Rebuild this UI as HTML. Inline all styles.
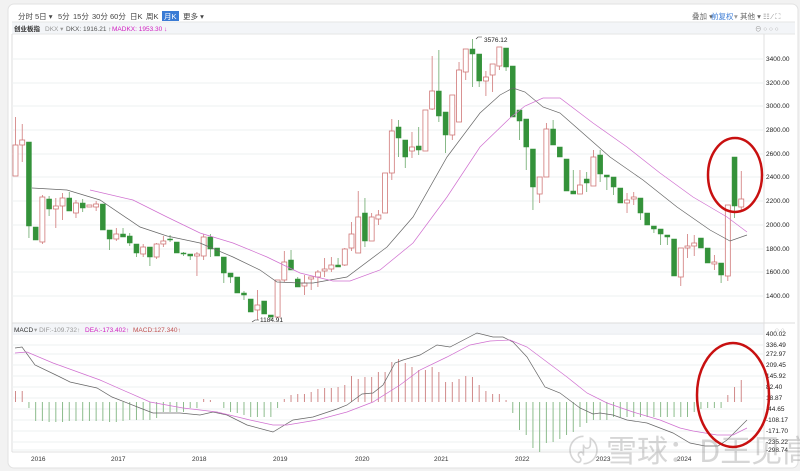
<!DOCTYPE html>
<html><head><meta charset="utf-8"><style>
html,body{margin:0;padding:0;background:#fff;width:800px;height:471px;overflow:hidden;font-family:"Liberation Sans","Noto Sans CJK SC",sans-serif;}
svg{position:absolute;left:0;top:0}
</style></head><body>
<svg id="s" width="800" height="471" xmlns="http://www.w3.org/2000/svg" font-family="Liberation Sans, Noto Sans CJK SC, sans-serif">
<rect x="0" y="0" width="800" height="471" fill="#f2f2f2"/>
<rect x="8" y="4" width="790" height="464" rx="6" fill="#fff" stroke="#e2e2e2"/>
<rect x="12" y="22" width="783" height="12" fill="#f3f5f8"/>
<line x1="12" y1="22" x2="795" y2="22" stroke="#e6e6e6"/>
<line x1="12" y1="34" x2="795" y2="34" stroke="#e6e6e6"/>
<rect x="12" y="323" width="752" height="12" fill="#f3f5f8"/>
<line x1="12" y1="323" x2="795" y2="323" stroke="#ddd"/>
<line x1="12" y1="34" x2="12" y2="452" stroke="#ddd"/>
<line x1="764" y1="34" x2="764" y2="452" stroke="#e0e0e0"/>
<line x1="12" y1="452" x2="764" y2="452" stroke="#e0e0e0"/>
<g font-size="7.5" fill="#444">
<text x="18" y="19">分时</text><text x="35" y="19">5日 ▾</text><text x="58" y="19">5分</text><text x="73" y="19">15分</text><text x="92" y="19">30分</text><text x="110" y="19">60分</text><text x="130" y="19">日K</text><text x="146" y="19">周K</text>
<rect x="162" y="11" width="17" height="10" fill="#3a7bd5"/><text x="164" y="19" fill="#fff">月K</text>
<text x="183" y="19">更多 ▾</text>
<text x="692" y="19" fill="#666">叠加 ▾</text><text x="711" y="19" fill="#3a7bd5">前复权</text><text x="734" y="19" fill="#999">▾</text><text x="740" y="19" fill="#666">其他 ▾</text><text x="763" y="19" fill="#999">☷ ⁄ ⛶</text>
</g>
<g font-size="6.5">
<text x="14" y="31" fill="#333" font-weight="bold">创业板指</text>
<text x="45" y="31" fill="#999">DKX ▾</text><text x="66" y="31" fill="#555">DKX: 1916.21 ↑</text>
<text x="112" y="31" fill="#d020c0">MADKX: 1953.30 ↓</text>
<text x="14" y="332" fill="#333">MACD</text><text x="34" y="332" fill="#999">▾ DIF:-109.732↑</text>
<text x="85" y="332" fill="#d020c0">DEA:-173.402↑</text><text x="133" y="332" fill="#c05050">MACD:127.340↑</text>
<text x="755" y="31" fill="#999">⊖ ○ ○ ○</text><text x="775" y="332" fill="#999">○ ○</text>
</g>
<g id="grid"></g><g id="ax" font-size="6.5" fill="#222"></g>
<g id="mac"></g><g id="can"></g>
<g id="ma" fill="none" stroke-width="0.7"></g>
<g font-size="6.5" fill="#222">
<text x="484" y="42">3576.12</text><path d="M476 39 L478 37 L482 37" stroke="#333" fill="none" stroke-width="0.6"/>
<text x="260" y="322">1184.91</text><path d="M252 322 L255 320 L259 320" stroke="#333" fill="none" stroke-width="0.6"/>
</g>
<g font-size="6.5" fill="#333">
<text x="31" y="461">2016</text><text x="111" y="461">2017</text><text x="192" y="461">2018</text><text x="273" y="461">2019</text><text x="355" y="461">2020</text><text x="434" y="461">2021</text><text x="515" y="461">2022</text><text x="596" y="461">2023</text><text x="677" y="461">2024</text>
</g>
<text x="568" y="462" font-size="31" fill="#999" fill-opacity="0.4" font-family="Noto Sans CJK SC, sans-serif">〄 雪球：D王见高傲</text>
<ellipse cx="735" cy="175" rx="27" ry="37" fill="none" stroke="#c81010" stroke-width="2.5"/>
<ellipse cx="733" cy="395" rx="36" ry="52" fill="none" stroke="#c81010" stroke-width="2.5"/>
</svg>
<script>
var NS="http://www.w3.org/2000/svg";
function el(p,t,a){var e=document.createElementNS(NS,t);for(var k in a)e.setAttribute(k,a[k]);document.getElementById(p).appendChild(e);return e;}
var pl=[[3400,59],[3200,83],[3000,106],[2800,130],[2600,154],[2400,177],[2200,201],[2000,225],[1800,249],[1600,272],[1400,296]];
pl.forEach(function(a){el("grid","line",{x1:12,x2:764,y1:a[1],y2:a[1],stroke:"#eef0f2"});var t=el("ax","text",{x:766,y:a[1]+2});t.textContent=a[0].toFixed(2);});
var ml=[["400.02",334],["336.49",345],["272.97",354],["209.45",365],["145.92",376],["82.40",387],["18.87",398],["-44.65",409],["-108.17",420],["-171.70",431],["-235.22",442],["-298.74",450]];
ml.forEach(function(a){el("grid","line",{x1:12,x2:764,y1:a[1],y2:a[1],stroke:"#eef0f2"});var t=el("ax","text",{x:766,y:a[1]+2});t.textContent=a[0];});
var C=[[145,176,117,176,1],[140,145,124,162,1],[142,226,142,238,0],[227,240,227,240,0],[197,242,195,244,1],[199,209,196,216,0],[206,209,198,228,1],[198,206,193,220,1],[198,211,192,211,0],[203,213,200,218,1],[203,208,199,212,0],[205,207,205,207,1],[204,207,201,211,1],[204,230,204,230,0],[230,239,230,250,0],[234,239,228,241,1],[234,237,228,237,0],[236,243,233,246,0],[244,253,244,257,0],[247,254,244,257,1],[247,257,247,266,0],[244,257,243,259,1],[241,244,236,247,1],[239,240,235,242,0],[242,253,242,253,0],[253,254,252,256,0],[254,256,254,260,0],[254,256,252,276,1],[237,256,234,260,1],[237,249,234,257,0],[248,256,248,256,0],[257,273,257,283,0],[273,277,273,283,0],[277,293,277,293,0],[293,295,291,300,0],[299,312,299,312,0],[305,310,290,320,1],[301,314,301,314,0],[315,317,315,320,0],[280,317,280,318,1],[262,280,251,282,1],[260,270,250,270,0],[279,287,277,287,0],[283,286,275,295,1],[277,279,277,290,1],[272,277,270,287,1],[269,271,258,277,1],[265,269,257,272,1],[265,267,258,267,0],[249,265,248,266,1],[234,248,222,251,1],[217,253,191,253,1],[213,241,198,247,0],[217,241,213,241,1],[215,219,210,225,1],[173,213,173,213,1],[131,173,119,180,1],[127,138,120,157,0],[140,157,140,168,0],[147,151,132,158,1],[146,150,127,155,0],[110,151,110,151,1],[91,109,56,110,1],[91,116,50,122,0],[112,135,112,153,0],[95,135,95,140,1],[70,122,62,122,1],[49,72,49,80,1],[49,54,39,87,0],[54,81,54,87,0],[77,81,71,96,1],[64,75,64,92,1],[47,66,47,70,1],[48,67,48,71,0],[66,117,66,117,0],[110,121,110,140,0],[119,147,119,170,0],[149,187,149,210,0],[177,194,177,203,1],[129,177,123,177,1],[129,145,120,145,0],[147,157,147,157,0],[159,191,159,191,0],[191,194,170,194,0],[185,194,170,194,1],[179,183,172,192,0],[157,186,150,186,1],[155,174,150,182,0],[175,177,175,190,0],[177,187,177,195,0],[188,203,188,203,0],[200,203,193,213,1],[197,199,192,205,1],[198,213,198,220,0],[213,225,213,225,0],[226,229,226,233,0],[229,234,229,245,0],[235,237,235,245,0],[239,276,239,276,0],[248,277,248,286,1],[246,248,234,258,1],[243,246,235,256,1],[238,248,238,248,0],[248,263,248,263,0],[262,264,255,270,1],[263,275,263,283,0],[205,276,205,281,1],[157,206,157,218,0],[199,207,171,210,1]];
function X(i){return 15.5+6.72*i;}
var H=[391,391,408,421,421,422,422,422,421,421,421,421,421,421,422,422,421,420,420,420,420,418,412,412,412,412,408,408,399,400,402,408,412,413,415,417,417,417,417,408,399,395,394,394,392,389,388,388,387,385,376,379,377,377,372,372,362,359,363,367,370,370,367,372,382,382,379,376,377,385,391,394,394,400,413,430,435,448,452,443,442,439,435,432,427,423,420,420,420,417,417,417,417,417,417,417,417,417,417,417,417,412,409,408,408,408,395,387,380];
var Z=402;
H.forEach(function(y,i){var x=X(i);el("mac","line",{x1:x,x2:x,y1:Z,y2:y,stroke:y<Z?"#d08a8a":"#8cbc8c","stroke-width":1});});
C.forEach(function(c,i){var x=X(i),up=c[4];var col=up?"#d07878":"#34923a";
el("can","line",{x1:x,x2:x,y1:c[2],y2:c[3],stroke:up?"#d07878":"#6aa86a","stroke-width":0.8});
var h=Math.max(c[1]-c[0],1);
el("can","rect",{x:x-2.5,y:c[0],width:5,height:h,fill:up?"#fff":"#34923a",stroke:col,"stroke-width":up?0.8:0.5});});
function P(pts,col){el("ma","polyline",{points:pts.map(function(p){return p.join(",");}).join(" "),stroke:col});}
P([[32,188],[67,190],[100,200],[140,227],[167,236],[200,243],[233,257],[260,270],[277,282],[300,283],[313,283],[347,277],[387,247],[413,217],[447,157],[480,113],[500,95],[513,88],[525,92],[543,107],[560,113],[610,157],[643,180],[677,207],[710,230],[730,241],[747,235]],"#666");
P([[90,190],[133,200],[167,217],[200,233],[233,243],[267,257],[300,273],[333,281],[350,281],[380,270],[413,243],[447,197],[480,147],[510,118],[525,106],[543,98],[560,98],[593,123],[627,147],[660,173],[693,197],[727,217],[747,232]],"#d070d0");
P([[15,348],[22,347],[35,365],[58,376],[70,382],[97,388],[112,397],[140,408],[153,413],[180,413],[200,415],[213,412],[227,415],[247,425],[273,432],[293,420],[313,417],[337,409],[347,405],[362,394],[373,393],[383,385],[395,363],[403,360],[420,355],[437,345],[450,347],[477,333],[493,337],[503,337],[513,342],[527,357],[545,387],[560,393],[580,408],[593,414],[600,413],[613,415],[627,420],[647,423],[673,433],[690,443],[705,446],[718,446],[727,440],[747,420]],"#666");
P([[15,353],[27,352],[53,363],[100,380],[150,402],[183,408],[217,412],[250,420],[273,425],[287,425],[317,420],[347,412],[373,402],[400,385],[420,370],[447,357],[470,345],[490,341],[510,340],[527,347],[547,362],[567,377],[587,393],[607,403],[633,412],[660,420],[680,428],[693,431],[717,435],[733,435],[747,428]],"#d070d0");
</script>
</body></html>
